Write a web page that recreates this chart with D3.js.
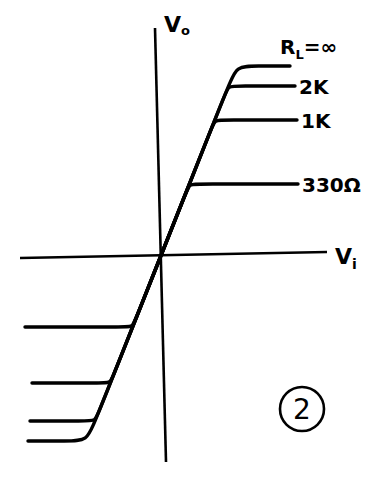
<!DOCTYPE html>
<html>
<head>
<meta charset="utf-8">
<script src="https://cdn.jsdelivr.net/npm/d3@7"></script>
<style>
  body { margin: 0; background: #fff; }
  svg text { font-family: "DejaVu Sans", sans-serif; fill: #000; }
</style>
</head>
<body>
<svg id="chart" width="369" height="477"></svg>
<script>
// load resistances, top to bottom
const loads = ['\u221E', '2K', '1K', '330\u03A9'];
// saturation levels of Vo for each load (arbitrary units)
const vPos = [9.6, 8.6, 6.9, 3.7];
const vNeg = [-9.15, -8.15, -6.25, -3.45];
// where each flat part stops
const viRight = [6.5, 6.75, 6.85, 6.9];
const viLeft = [-6.6, -6.5, -6.4, -6.75];
const gain = 2.52;

// hand drawn axes are a bit off square
const viAxis = [[-7, 0], [8.35, 0.3]];
const voAxis = [[-0.25, 11.5], [0.3, -10.2]];

const svg = d3.select('#chart');
const x = d3.scaleLinear().domain([-7, 8.35]).range([20, 327]);
const y = d3.scaleLinear().domain([-10.1, 11.4]).range([460, 30]);

const line = d3.line().x(d => x(d[0])).y(d => y(d[1]));

// axes
[viAxis, voAxis].forEach(a => {
  svg.append('path')
    .attr('d', line(a))
    .attr('fill', 'none')
    .attr('stroke', '#000')
    .attr('stroke-width', 2.6);
});

// rounding of the knees, the open circuit one is softest
const soft = [1.0, 0.45, 0.4, 0.4];
const dx = 1 / Math.sqrt(1 + gain * gain);
const dy = gain * dx;

const curve = d3.line().x(d => x(d[0])).y(d => y(d[1])).curve(d3.curveBasis);

loads.forEach((name, i) => {
  const kn = vNeg[i] / gain, kp = vPos[i] / gain, r = soft[i];
  const pts = [
    [viLeft[i], vNeg[i]],
    [kn - r, vNeg[i]],
    [kn, vNeg[i]],
    [kn + r * dx, vNeg[i] + r * dy],
    [kp - r * dx, vPos[i] - r * dy],
    [kp, vPos[i]],
    [kp + r, vPos[i]],
    [viRight[i], vPos[i]]
  ];
  svg.append('path')
    .attr('d', curve(pts))
    .attr('fill', 'none')
    .attr('stroke', '#000')
    .attr('stroke-width', 3.4)
    .attr('stroke-linecap', 'round');
});

// load labels at the right end of each level
loads.forEach((name, i) => {
  const t = svg.append('text')
    .attr('font-size', 20)
    .attr('font-weight', 'bold');
  if (i === 0) {
    t.attr('x', x(viRight[i]) - 10).attr('y', y(vPos[i]) - 12);
    t.append('tspan').text('R');
    t.append('tspan').attr('font-size', 13).attr('dy', 5).text('L');
    t.append('tspan').attr('dy', -5).text('=' + name);
  } else {
    t.attr('x', x(viRight[i]) + 4).attr('y', y(vPos[i]) + 8).text(name);
  }
});

// axis names
const vo = svg.append('text').attr('x', 164).attr('y', 32)
  .attr('font-size', 22).attr('font-weight', 'bold');
vo.append('tspan').text('V');
vo.append('tspan').attr('font-size', 13).attr('dy', 3).text('o');

const vi = svg.append('text').attr('x', 335).attr('y', 264)
  .attr('font-size', 22).attr('font-weight', 'bold');
vi.append('tspan').text('V');
vi.append('tspan').attr('font-size', 14).attr('dy', 5).text('i');

// figure number
svg.append('circle').attr('cx', 302).attr('cy', 409).attr('r', 22)
  .attr('fill', 'none').attr('stroke', '#000').attr('stroke-width', 2.6);
svg.append('text').attr('x', 302).attr('y', 419)
  .attr('text-anchor', 'middle').attr('font-size', 28).text('2');
</script>
</body>
</html>
